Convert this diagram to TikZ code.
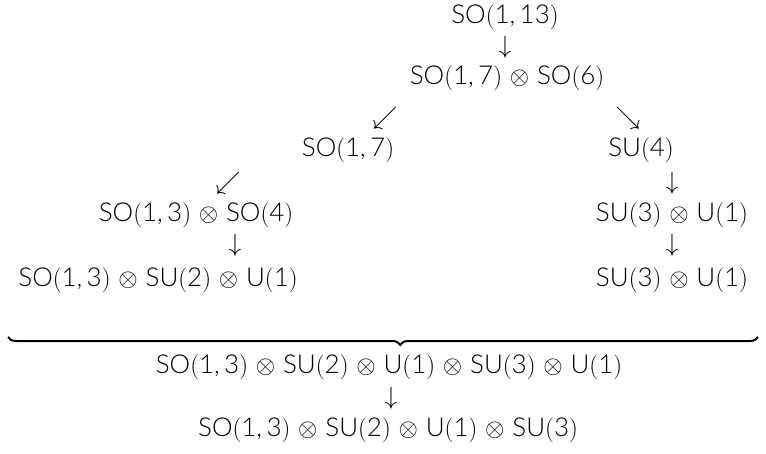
\documentclass[tikz,border=0pt]{standalone}
\usepackage{fontspec}
\setmainfont{Lato Light}
\usetikzlibrary{decorations.pathreplacing}
\newcommand\ot{\hspace{0.3em}\ensuremath{\otimes}\hspace{0.3em}}
\newcommand\lp{\ensuremath{(}}
\newcommand\rp{\ensuremath{)}}
\begin{document}
\begin{tikzpicture}[x=1pt,y=1pt,
  lab/.style={inner sep=0pt,font=\fontsize{26}{28}\selectfont},
  arr/.style={inner sep=0pt,font=\fontsize{25}{27}\selectfont}]
\useasboundingbox (0,0) rectangle (766,453);
% top
\node[lab] (top) at (505,436) {SO\lp1,\,13\rp};
\node[arr] (a1) at (505,406) {$\downarrow$};
\node[lab] (r1) at (507,375) {SO\lp1,\,7\rp\ot SO\lp6\rp};
\node[arr] (a2) at (385,335) {$\swarrow$};
\node[arr] (a3) at (628,335) {$\searrow$};
\node[lab] (l1) at (348,303) {SO\lp1,\,7\rp};
\node[lab] (rr1) at (641,303) {SU\lp4\rp};
\node[arr] (a4) at (228,270) {$\swarrow$};
\node[lab] (l2) at (196,238) {SO\lp1,\,3\rp\ot SO\lp4\rp};
\node[arr] (a5) at (235,208) {$\downarrow$};
\node[lab] (l3) at (158,173) {SO\lp1,\,3\rp\ot SU\lp2\rp\ot U\lp1\rp};
\node[arr] (a6) at (672,270) {$\downarrow$};
\node[lab] (rr2) at (672,238) {SU\lp3\rp\ot U\lp1\rp};
\node[arr] (a7) at (672,208) {$\downarrow$};
\node[lab] (rr3) at (672,173) {SU\lp3\rp\ot U\lp1\rp};
% brace
\coordinate (b1) at (8,116);
\coordinate (b2) at (758,116);
\draw[line width=2pt,decorate,decoration={brace,mirror,amplitude=8pt,aspect=0.523}] (b1) -- (b2);
\node[lab] (m1) at (389,86) {SO\lp1,\,3\rp\ot SU\lp2\rp\ot U\lp1\rp\ot SU\lp3\rp\ot U\lp1\rp};
\node[arr] (a8) at (391,55) {$\downarrow$};
\node[lab] (m2) at (388,23) {SO\lp1,\,3\rp\ot SU\lp2\rp\ot U\lp1\rp\ot SU\lp3\rp};
\end{tikzpicture}
\end{document}
